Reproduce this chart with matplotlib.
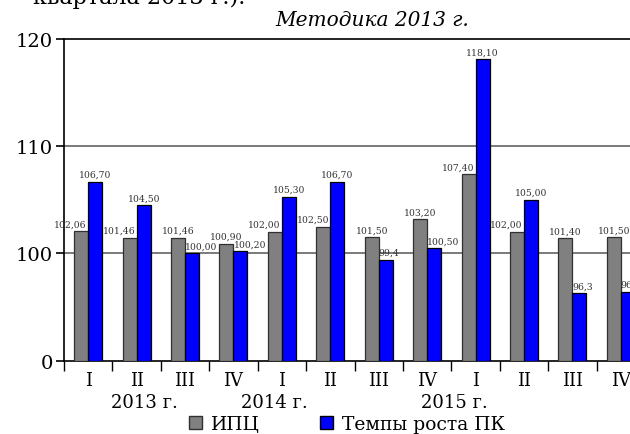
import numpy as np
import matplotlib
matplotlib.use('Agg')
import matplotlib.pyplot as plt
from matplotlib.patches import Patch

# data
quarters = ['I', 'II', 'III', 'IV', 'I', 'II', 'III', 'IV', 'I', 'II', 'III', 'IV']
years = ['2013 г.', '2014 г.', '2015 г.']
year_pos = [1.17, 3.84, 7.56]  # category coordinates where the year labels sit
ipc = [102.06, 101.46, 101.46, 100.90, 102.00, 102.50, 101.50, 103.20, 107.40, 102.00, 101.40, 101.50]
pk = [106.70, 104.50, 100.00, 100.20, 105.30, 106.70, 99.4, 100.50, 118.10, 105.00, 96.3, 96.4]
ipc_labels = ['102,06', '101,46', '101,46', '100,90', '102,00', '102,50', '101,50', '103,20', '107,40', '102,00', '101,40', '101,50']
pk_labels = ['106,70', '104,50', '100,00', '100,20', '105,30', '106,70', '99,4', '100,50', '118,10', '105,00', '96,3', '96,4']
yticks = [0, 100, 110, 120]

plt.rcParams['font.family'] = ['DejaVu Serif']

BREAK = 90.0  # axis is broken: 0 sits where 90 would be


def fwd(v):
    v = np.asarray(v, dtype=float)
    return np.where(v >= BREAK, v, BREAK + (v - BREAK) * 0.0005)


def inv(y):
    y = np.asarray(y, dtype=float)
    return np.where(y >= BREAK, y, BREAK + (y - BREAK) / 0.0005)


fig = plt.figure(figsize=(6.3, 4.35), dpi=100)
ax = fig.add_axes([64 / 630, 1 - 362 / 435, 581 / 630, 322 / 435])
ax.set_yscale('function', functions=(fwd, inv))

x = np.arange(len(quarters))
w = 0.29
gray = '#808080'
blue = '#0000ff'
ax.bar(x - w / 2, ipc, w, color=gray, edgecolor='#303030', linewidth=0.9, zorder=3)
ax.bar(x + w / 2, pk, w, color=blue, edgecolor='black', linewidth=0.9, zorder=3)

# value labels, nudged sideways when the neighbouring bar would cover them
for i in range(len(x)):
    if pk[i] > ipc[i]:
        ax.annotate(ipc_labels[i], (x[i], ipc[i]), xytext=(-1, 2), textcoords='offset points',
                    ha='right', va='bottom', fontsize=6.7, color='#333333')
        ax.annotate(pk_labels[i], (x[i] + w / 2, pk[i]), xytext=(0, 2), textcoords='offset points',
                    ha='center', va='bottom', fontsize=6.7, color='#333333')
    else:
        ax.annotate(ipc_labels[i], (x[i] - w / 2, ipc[i]), xytext=(0, 2), textcoords='offset points',
                    ha='center', va='bottom', fontsize=6.7, color='#333333')
        ax.annotate(pk_labels[i], (x[i], pk[i]), xytext=(0, 2), textcoords='offset points',
                    ha='left', va='bottom', fontsize=6.7, color='#333333')

ax.set_xlim(-0.5, len(x) - 0.5)
ax.set_ylim(0, 120)
ax.set_yticks(yticks)
ax.set_yticklabels([str(t) for t in yticks], fontsize=14)
for t in [100, 110]:
    ax.axhline(t, color='#707070', linewidth=1.3, zorder=1)
ax.tick_params(axis='y', length=6, width=1.2, pad=2)

ax.set_xticks(np.arange(len(x) + 1) - 0.5)
ax.set_xticklabels([])
ax.set_xticks(x, minor=True)
ax.set_xticklabels(quarters, minor=True, fontsize=13)
ax.tick_params(axis='x', which='major', length=7, width=1.0, direction='out')
ax.tick_params(axis='x', which='minor', length=0, pad=7)

for yr, p in zip(years, year_pos):
    ax.text(p, -0.127, yr, transform=ax.get_xaxis_transform(), ha='center', va='center', fontsize=13)

ax.spines['right'].set_visible(False)
for s in ['left', 'bottom', 'top']:
    ax.spines[s].set_linewidth(1.2)

fig.text(372 / 630, 1 - 20 / 435, 'Методика 2013 г.', ha='center', va='center',
         fontsize=14.5, style='italic')
fig.text(245 / 630, 1 - 4 / 435, 'квартала 2013 г.).', ha='right', va='baseline', fontsize=16)

handles = [Patch(facecolor=gray, edgecolor='#303030', label='ИПЦ'),
           Patch(facecolor=blue, edgecolor='black', label='Темпы роста ПК')]
fig.legend(handles=handles, loc='center', bbox_to_anchor=(347 / 630, 1 - 425 / 435), ncol=2,
           frameon=False, fontsize=13.5, handlelength=0.7, handleheight=0.7, handletextpad=0.5,
           columnspacing=3.2, borderaxespad=0, borderpad=0)

fig.savefig('out.png', dpi=100)
